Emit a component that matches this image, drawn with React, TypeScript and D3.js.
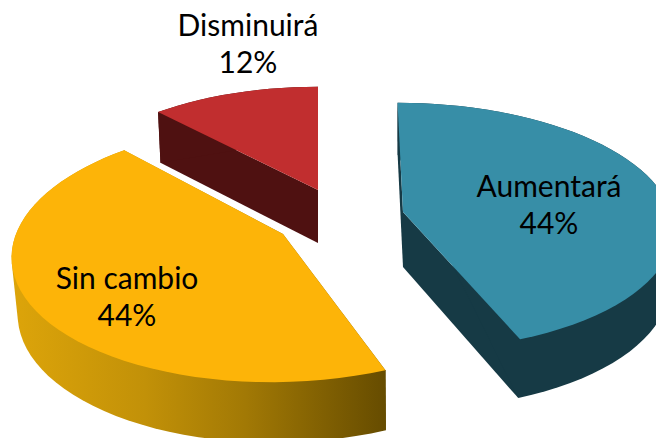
import React from "react";
import * as d3 from "d3";

const categories = ["Aumentará", "Sin cambio", "Disminuirá"];
const shares = [44, 44, 12];
const percentLabels = ["44%", "44%", "12%"];

const W = 656, H = 438;
const topColors = ["#378ea7", "#fdb408", "#c12e2f"];
const sideColors = ["#163a45", "url(#goldSide)", "#4f1111"];
const FONT = "Lato, 'Open Sans', sans-serif";

// Projection of each exploded slice: apex position, radii, perspective and skew
const layout = [
  { cx: 403, cy: 212, R: 268, A: 122, k: 0.117, skew: 0.05, depth: 55, shift: 0, lx: 549, ly: 197 },
  { cx: 283, cy: 234, R: 267, A: 127, k: 0.143, skew: -0.08, depth: 56, shift: 2, lx: 127, ly: 289 },
  { cx: 318, cy: 190, R: 258, A: 118, k: 0.143, skew: 0, depth: 53, shift: 0, lx: 248, ly: 36 },
];

const arcs = d3.pie<number>().sort(null).startAngle(0).endAngle(2 * Math.PI)(shares);

type P = [number, number];

function sliceOutline(i: number): { topArc: P[]; bottomArc: P[]; apexTop: P; apexBottom: P } {
  const a = arcs[i];
  const l = layout[i];
  const n = Math.max(8, Math.round(((a.endAngle - a.startAngle) / Math.PI) * 60));
  const angle = d3.scaleLinear().domain([0, n]).range([a.startAngle, a.endAngle]);
  const rel: P[] = d3.range(n + 1).map((s) => {
    const t = angle(s);
    const u = Math.sin(t), v = Math.cos(t);
    const w = 1 + l.k * v;
    const dy = (-l.A * v) / w;
    return [(l.R * u) / w + l.skew * dy, dy];
  });
  return {
    topArc: rel.map(([dx, dy]) => [l.cx + dx, l.cy + dy]),
    bottomArc: rel.map(([dx, dy]) => [l.cx + l.shift + dx * 0.985, l.cy + l.depth + dy * 1.03]),
    apexTop: [l.cx, l.cy],
    apexBottom: [l.cx + l.shift, l.cy + l.depth],
  };
}

const line = d3.line();

export default function App() {
  return (
    <svg width={W} height={H} viewBox={`0 0 ${W} ${H}`}
      style={{ position: "fixed", left: 0, top: 0, background: "#fff" }}>
      <defs>
        <linearGradient id="goldSide" gradientUnits="userSpaceOnUse" x1="15" y1="0" x2="386" y2="0">
          <stop offset="0" stopColor="#dca40a" />
          <stop offset="0.35" stopColor="#c29108" />
          <stop offset="0.62" stopColor="#a27905" />
          <stop offset="1" stopColor="#664c00" />
        </linearGradient>
      </defs>
      {categories.map((c, i) => {
        const { topArc, bottomArc, apexTop, apexBottom } = sliceOutline(i);
        const last = topArc.length - 1;
        const hull = d3.polygonHull([...topArc, ...bottomArc]) as P[];
        const walls: P[][] = [
          [apexTop, topArc[0], bottomArc[0], apexBottom],
          [apexTop, topArc[last], bottomArc[last], apexBottom],
          hull,
        ];
        return (
          <g key={c}>
            {walls.map((q, j) => (
              <path key={j} d={line(q) + "Z"} fill={sideColors[i]} />
            ))}
            <path d={line([apexTop, ...topArc]) + "Z"} fill={topColors[i]} />
          </g>
        );
      })}
      {categories.map((c, i) => (
        <text key={c} x={layout[i].lx} y={layout[i].ly} textAnchor="middle"
          fontFamily={FONT} fontSize={30} fill="#000">
          <tspan x={layout[i].lx}>{c}</tspan>
          <tspan x={layout[i].lx} dy={37}>{percentLabels[i]}</tspan>
        </text>
      ))}
    </svg>
  );
}
